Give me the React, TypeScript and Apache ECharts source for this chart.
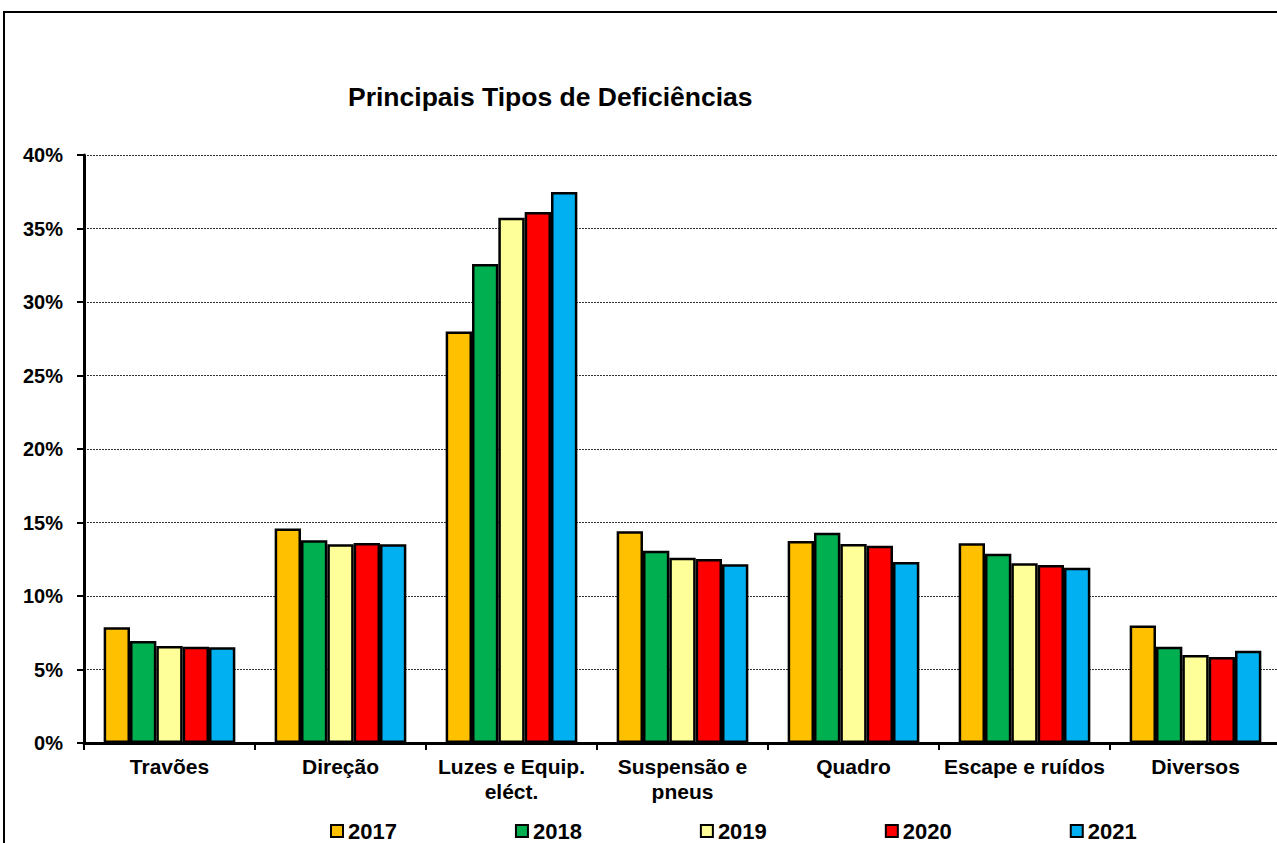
import React, { useEffect, useRef } from "react";
import * as echarts from "echarts";

const categories = [
  "Travões",
  "Direção",
  "Luzes e Equip.\neléct.",
  "Suspensão e\npneus",
  "Quadro",
  "Escape e ruídos",
  "Diversos",
];
const years = ["2017", "2018", "2019", "2020", "2021"];
const values2017 = [7.87, 14.6, 28.0, 14.4, 13.74, 13.58, 8.0];
const values2018 = [6.94, 13.79, 32.59, 13.08, 14.31, 12.88, 6.55];
const values2019 = [6.6, 13.52, 35.73, 12.6, 13.54, 12.22, 5.99];
const values2020 = [6.55, 13.6, 36.12, 12.52, 13.42, 12.11, 5.85];
const values2021 = [6.51, 13.52, 37.48, 12.16, 12.31, 11.93, 6.28];
const seriesValues = [values2017, values2018, values2019, values2020, values2021];
const colors = ["#FFC000", "#00B050", "#FFFF99", "#FF0000", "#00B0F0"];

const FONT = "'Liberation Sans', Arial, sans-serif";

export default function App() {
  const ref = useRef<HTMLDivElement>(null);
  useEffect(() => {
    if (!ref.current) return;
    const chart = echarts.init(ref.current, null, { renderer: "svg" });
    chart.setOption({
      animation: false,
      backgroundColor: "#ffffff",
      title: {
        text: "Principais Tipos de Deficiências",
        left: 348,
        top: 83,
        padding: 0,
        textStyle: { fontFamily: FONT, fontWeight: "bold", fontSize: 26.5, color: "#000" },
      },
      graphic: [
        {
          type: "rect",
          shape: { x: 4, y: 12, width: 1400, height: 900 },
          style: { fill: "none", stroke: "#000", lineWidth: 2 },
          silent: true,
          z: -10,
        },
      ],
      legend: {
        data: years,
        left: 330,
        top: 820,
        padding: 0,
        itemWidth: 12,
        itemHeight: 12,
        itemGap: 118,
        icon: "rect",
        itemStyle: { borderColor: "#000", borderWidth: 2 },
        textStyle: { fontFamily: FONT, fontWeight: "bold", fontSize: 22, lineHeight: 20, color: "#000" },
      },
      grid: { left: 84, top: 155, right: 9, bottom: 100, containLabel: false },
      xAxis: {
        type: "category",
        data: categories,
        axisLine: { lineStyle: { color: "#000", width: 3 } },
        axisTick: { show: true, length: 7, lineStyle: { color: "#000", width: 2 } },
        axisLabel: {
          interval: 0,
          margin: 11,
          fontFamily: FONT,
          fontWeight: "bold",
          fontSize: 21,
          lineHeight: 25,
          color: "#000",
        },
      },
      yAxis: {
        type: "value",
        min: 0,
        max: 40,
        interval: 5,
        axisLine: { show: true, lineStyle: { color: "#000", width: 3 } },
        axisTick: { show: true, length: 7, lineStyle: { color: "#000", width: 2 } },
        axisLabel: {
          formatter: "{value}%",
          margin: 21,
          fontFamily: FONT,
          fontWeight: "bold",
          fontSize: 20,
          color: "#000",
        },
        splitLine: { show: true, lineStyle: { color: "#333", width: 1, type: [2, 1] } },
      },
      series: years.map((y, i) => ({
        name: y,
        type: "bar",
        data: seriesValues[i],
        barGap: "0%",
        barCategoryGap: "23%",
        itemStyle: { color: colors[i], borderColor: "#000", borderWidth: 2.5 },
      })),
    });
    return () => chart.dispose();
  }, []);
  return (
    <div
      ref={ref}
      style={{ position: "fixed", left: 0, top: 0, width: 1290, height: 843 }}
    />
  );
}
